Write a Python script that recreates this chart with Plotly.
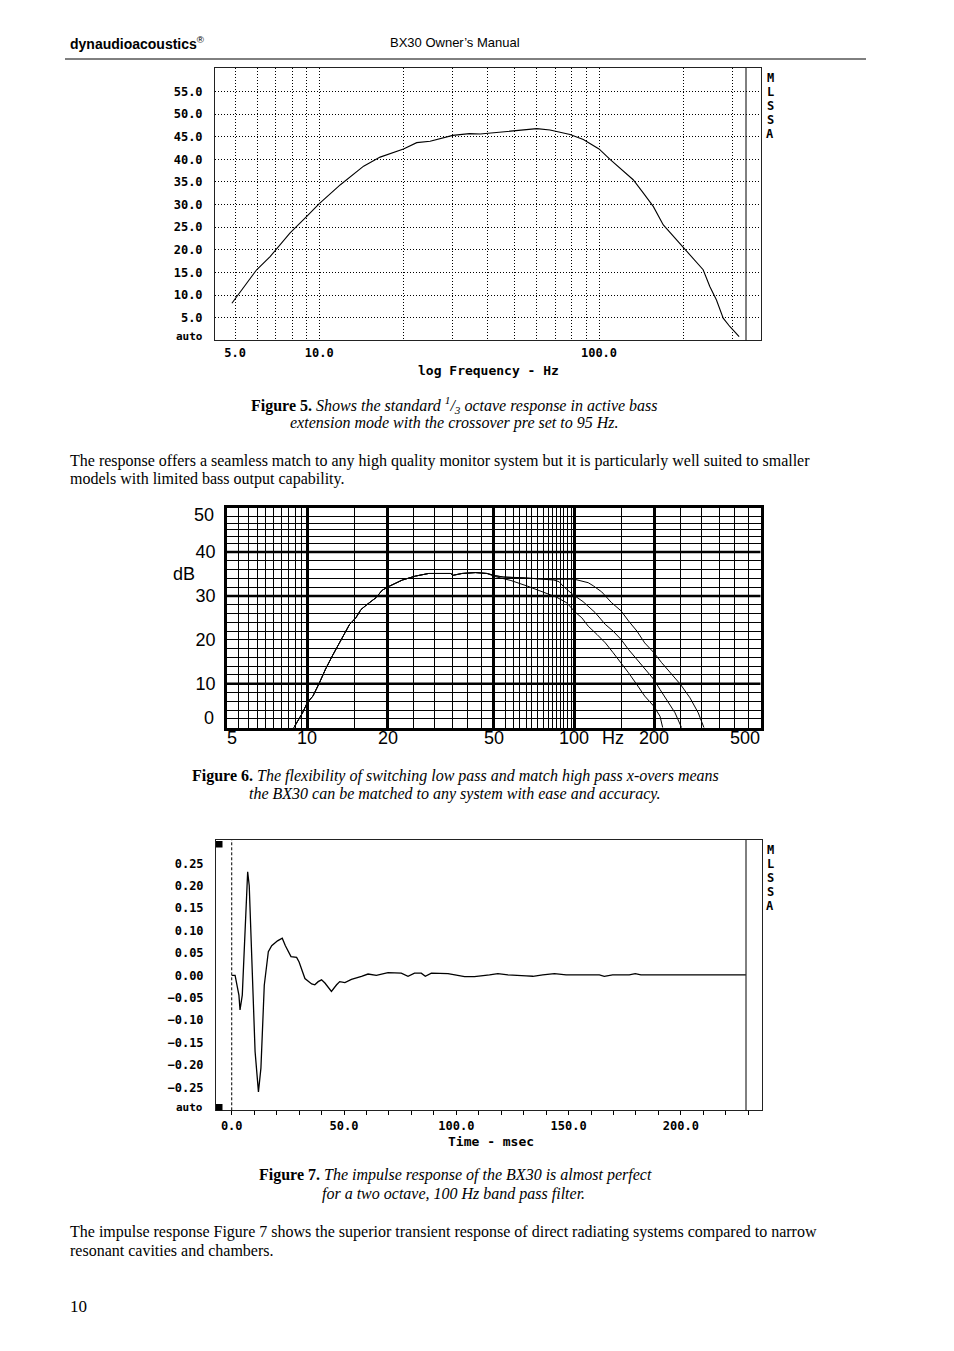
import math
import plotly.graph_objects as go

W, H = 954, 1351

# ---------------- Figure 5 data: 1/3 octave response ----------------
fig5_freq_hz = [4.87, 5.35, 5.97, 6.67, 7.85, 9.02, 10.0, 11.9, 14.4, 16.5,
                20.0, 22.3, 24.9, 30.0, 34.4, 37.6, 41.0, 45.5, 52.0, 59.9,
                66.8, 72.0, 78.8, 87.9, 100.0, 109.5, 122.0, 132.5, 143.9, 156.3,
                169.8, 184.4, 200.0, 217.0, 235.7, 249.0, 263.0, 278.0, 294.0, 317.0]
fig5_level_db = [8.2, 11.6, 15.6, 18.5, 23.7, 27.4, 30.2, 34.4, 38.5, 40.5,
                 42.3, 43.7, 44.0, 45.3, 45.7, 45.6, 45.8, 46.2, 46.5, 46.8,
                 46.5, 46.0, 45.5, 44.4, 42.3, 40.0, 37.4, 35.5, 32.6, 29.6,
                 25.5, 23.0, 20.7, 18.2, 15.6, 11.9, 8.9, 4.9, 3.0, 0.8]
fig5_cursor_hz = 4.86
fig5_label_hz = [5, 10, 100]
fig5_label_text = ["5.0", "10.0", "100.0"]
fig5_minor_hz = [6, 7, 8, 9, 20, 30, 40, 50, 60, 70, 80, 90, 200, 300]
fig5_db_ticks = [5, 10, 15, 20, 25, 30, 35, 40, 45, 50, 55]
fig5_db_text = ["5.0", "10.0", "15.0", "20.0", "25.0", "30.0", "35.0", "40.0", "45.0", "50.0", "55.0"]

# ---------------- Figure 6 data: switchable crossovers ----------------
fig6_common_hz = [8.9, 9.6, 10.0, 10.5, 11.1, 11.7, 12.4, 13.0, 13.6, 14.4, 15.2, 15.9,
                  16.8, 18.1, 19.1, 20.3, 22.7, 25.4, 28.5, 34.4, 35.3, 38.0, 42.7, 47.2]
fig6_common_db = [0.0, 3.4, 5.7, 7.2, 10.2, 13.3, 16.3, 18.6, 20.9, 23.5, 25.0, 26.9,
                  28.1, 29.6, 31.3, 32.2, 33.6, 34.5, 35.1, 35.1, 34.7, 35.1, 35.3, 35.1]
fig6_low_hz = [50.6, 58.0, 67.0, 77.0, 86.0, 94.0, 101.0, 107.0, 113.0, 122.0, 131.0,
               140.0, 150.0, 160.0, 172.0, 184.0, 199.0, 210.0, 215.0]
fig6_low_db = [34.4, 33.5, 32.2, 30.9, 29.7, 28.4, 26.3, 25.0, 23.1, 21.2, 19.3,
               17.1, 14.8, 12.5, 9.8, 7.2, 4.9, 2.6, 0.0]
fig6_mid_hz = [50.6, 54.0, 66.0, 80.0, 84.0, 88.0, 91.0, 99.0, 108.0, 120.0, 131.0,
               140.0, 150.0, 160.0, 172.0, 184.0, 199.0, 210.0, 225.0, 239.0, 253.0]
fig6_mid_db = [34.6, 34.3, 34.1, 33.8, 33.6, 33.2, 32.2, 30.3, 28.7, 26.2, 23.5,
               22.0, 20.1, 17.8, 15.5, 13.3, 11.0, 8.7, 5.7, 3.4, 0.0]
fig6_up_hz = [50.6, 54.4, 66.5, 81.0, 100.0, 105.0, 113.0, 118.0, 127.0, 138.0, 150.0,
              160.0, 172.0, 184.0, 199.0, 213.0, 232.0, 251.0, 272.0, 292.0, 307.0]
fig6_up_db = [34.6, 34.3, 34.0, 33.8, 33.8, 33.5, 33.0, 32.3, 30.9, 28.5, 26.6,
              24.3, 22.0, 19.3, 17.1, 14.8, 12.1, 9.8, 6.8, 3.4, 0.0]
fig6_major_hz = [10, 20, 50, 100, 200]
fig6_x_labels = [5, 10, 20, 50, 100, 200, 500]
fig6_x_label_text = ["5", "10", "20", "50", "100", "200", "500"]
fig6_unit_hz = 140
fig6_minor_hz = [5.5, 6, 6.5, 7, 7.5, 8, 8.5, 9, 9.5, 15, 25, 30, 35, 40, 45,
                 55.5, 59.3, 62.4, 66.5, 69.5, 72.9, 76.8, 80.2, 83.2, 86.1, 88.6,
                 91.2, 94.4, 97.4, 150, 250, 300, 350, 400, 450]
fig6_db_labels = [10, 20, 30, 40]
fig6_db_thick = [10, 30, 40]
fig6_db_thin = [2, 4, 6, 8, 12, 14, 16, 18, 20, 22, 24, 26, 28, 32, 34, 36, 38,
                42, 43.6, 45, 46.4, 48]

# ---------------- Figure 7 data: impulse response ----------------
fig7_time_ms = [0, 1.5, 3.2, 3.7, 4.7, 5.6, 6.7, 7.1, 7.8, 9.2, 10.4, 11.9, 13.0, 14.5,
                16.3, 17.8, 20.4, 22.5, 23.9, 26.4, 28.9, 30.0, 32.6, 35.6, 37.0, 38.5,
                40.0, 41.5, 44.4, 46.7, 48.1, 50.4, 53.3, 57.8, 60.7, 64.4, 69.6, 75.5,
                78.5, 81.4, 84.4, 86.2, 88.9, 96.3, 103.7, 108.1, 110.4, 114.8, 118.5,
                123.0, 131.1, 134.1, 138.5, 143.7, 148.9, 163.7, 165.9, 169.6, 177.0,
                179.7, 182.2, 228.9]
fig7_amplitude = [0, 0, -0.044, -0.077, -0.044, 0.06, 0.2, 0.231, 0.2, 0.016, -0.17,
                  -0.26, -0.207, -0.022, 0.053, 0.066, 0.077, 0.083, 0.066, 0.042, 0.04,
                  0.030, -0.007, -0.019, -0.021, -0.014, -0.010, -0.017, -0.036, -0.021,
                  -0.014, -0.016, -0.009, -0.002, 0.003, 0.0, 0.006, 0.005, -0.002, 0.005,
                  0.005, -0.002, 0.005, 0.004, -0.003, -0.003, -0.002, 0.001, 0.004, 0.001,
                  -0.001, -0.002, 0.001, 0.004, 0.001, 0.001, -0.002, 0.001, 0.001, 0.004,
                  0.001, 0.001]
fig7_time_ticks = [0, 50, 100, 150, 200]
fig7_time_text = ["0.0", "50.0", "100.0", "150.0", "200.0"]
fig7_amp_ticks = [0.25, 0.20, 0.15, 0.10, 0.05, 0.0, -0.05, -0.10, -0.15, -0.20, -0.25]
fig7_amp_text = ["0.25", "0.20", "0.15", "0.10", "0.05", "0.00", "\u22120.05",
                 "\u22120.10", "\u22120.15", "\u22120.20", "\u22120.25"]


# ---------------- helpers (pixel -> paper) ----------------
def px(x):
    return x / W


def py(y):
    return 1 - y / H


def dx(a, b):
    return [a / W, b / W]


def dy(top, bottom):
    return [1 - bottom / H, 1 - top / H]


MONO = dict(family="DejaVu Sans Mono", size=12, color="black", weight="bold")
MONO_S = dict(family="DejaVu Sans Mono", size=11, color="black", weight="bold")
MONO_L = dict(family="DejaVu Sans Mono", size=13, color="black", weight="bold")
SANS = dict(family="Liberation Sans, Arial", size=18, color="black")
SERIF = dict(family="Liberation Serif, Times New Roman", size=16, color="black")

fig = go.Figure()

# Figure 5 curve
fig.add_trace(go.Scatter(x=fig5_freq_hz, y=fig5_level_db, mode="lines",
                         line=dict(color="black", width=1.1), xaxis="x", yaxis="y",
                         showlegend=False, hoverinfo="skip"))

# Figure 6 curves
for bh, bd in [(fig6_low_hz, fig6_low_db), (fig6_mid_hz, fig6_mid_db), (fig6_up_hz, fig6_up_db)]:
    fig.add_trace(go.Scatter(x=fig6_common_hz + bh, y=fig6_common_db + bd, mode="lines",
                             line=dict(color="black", width=1), xaxis="x2", yaxis="y2",
                             showlegend=False, hoverinfo="skip"))

# Figure 7 curve
fig.add_trace(go.Scatter(x=fig7_time_ms, y=fig7_amplitude, mode="lines",
                         line=dict(color="black", width=1.3), xaxis="x3", yaxis="y3",
                         showlegend=False, hoverinfo="skip"))

dotgrid = dict(showgrid=True, gridcolor="black", griddash="1px,2px", gridwidth=1)

layout = dict(
    width=W, height=H, margin=dict(l=0, r=0, t=0, b=0),
    paper_bgcolor="white", plot_bgcolor="white", showlegend=False,
    # Figure 5
    xaxis=dict(domain=dx(215, 761), type="log", range=[0.6271, 2.5792], anchor="y",
               tickmode="array", tickvals=fig5_label_hz, ticktext=fig5_label_text,
               ticks="", tickfont=MONO, ticklabelstandoff=1, zeroline=False,
               minor=dict(tickmode="array", tickvals=fig5_minor_hz, ticks="", **dotgrid),
               showline=True, mirror=True, linecolor="#222", linewidth=1, **dotgrid),
    yaxis=dict(domain=dy(68, 340.3), range=[0, 60.2], anchor="x",
               tickmode="array", tickvals=fig5_db_ticks, ticktext=fig5_db_text,
               ticks="", tickfont=MONO, ticklabelstandoff=9, zeroline=False,
               showline=True, mirror=True, linecolor="#222", linewidth=1, **dotgrid),
    # Figure 6
    xaxis2=dict(domain=dx(227, 760.5), type="log", range=[math.log10(5), math.log10(500)],
                anchor="y2", tickmode="array", tickvals=fig6_major_hz,
                showticklabels=False, ticks="", zeroline=False,
                showgrid=True, gridcolor="black", gridwidth=2.5,
                minor=dict(tickmode="array", tickvals=fig6_minor_hz, showgrid=True,
                           gridcolor="black", gridwidth=1, ticks=""),
                showline=True, mirror=True, linecolor="black", linewidth=2.5),
    yaxis2=dict(domain=dy(508, 727.7), range=[0, 50], anchor="x2",
                tickmode="array", tickvals=fig6_db_labels,
                ticktext=[str(v) for v in fig6_db_labels],
                ticks="", tickfont=SANS, ticklabelstandoff=5, zeroline=False,
                showgrid=False,
                minor=dict(tickmode="array", tickvals=fig6_db_thin, showgrid=True,
                           gridcolor="black", gridwidth=1, ticks=""),
                showline=True, mirror=True, linecolor="black", linewidth=2.5),
    # Figure 7
    xaxis3=dict(domain=dx(216, 761.5), range=[-7.0, 235.9], anchor="y3",
                tickmode="array", tickvals=fig7_time_ticks, ticktext=fig7_time_text,
                ticks="outside", ticklen=4, tickcolor="black", tickfont=MONO,
                ticklabelstandoff=0, zeroline=False, showgrid=False,
                minor=dict(tickmode="linear", tick0=0, dtick=10, ticks="outside",
                           ticklen=4, tickcolor="black", showgrid=False),
                showline=True, mirror=True, linecolor="#222", linewidth=1),
    yaxis3=dict(domain=dy(840, 1110.3), range=[-0.301, 0.302], anchor="x3",
                tickmode="array", tickvals=fig7_amp_ticks, ticktext=fig7_amp_text,
                ticks="", tickfont=MONO, ticklabelstandoff=9, zeroline=False, showgrid=False,
                showline=True, mirror=True, linecolor="#222", linewidth=1),
)
fig.update_layout(**layout)

shapes = []
# header rule
shapes.append(dict(type="line", xref="paper", yref="paper", x0=px(65), x1=px(866),
                   y0=py(59), y1=py(59), line=dict(color="black", width=1)))
# Figure 5: cursor and right-hand panel separator
shapes.append(dict(type="line", xref="x", yref="y domain", x0=math.log10(fig5_cursor_hz),
                   x1=math.log10(fig5_cursor_hz), y0=0, y1=1,
                   line=dict(color="black", width=1, dash="3px,2px")))
shapes.append(dict(type="line", xref="x domain", yref="y domain", x0=(746 - 215) / (761 - 215),
                   x1=(746 - 215) / (761 - 215), y0=0, y1=1, line=dict(color="black", width=1)))
# Figure 6: heavy horizontal rules
for v in fig6_db_thick:
    shapes.append(dict(type="line", xref="x2 domain", yref="y2", x0=0, x1=1, y0=v, y1=v,
                       layer="below", line=dict(color="black", width=2.5)))
# Figure 7: time-zero cursor, separator, marker squares
shapes.append(dict(type="line", xref="x3", yref="y3 domain", x0=0, x1=0, y0=0, y1=1,
                   line=dict(color="black", width=1, dash="3px,2px")))
shapes.append(dict(type="line", xref="x3 domain", yref="y3 domain",
                   x0=(746 - 216) / (761.5 - 216), x1=(746 - 216) / (761.5 - 216), y0=0, y1=1,
                   line=dict(color="black", width=1)))
for top in (841, 1104):
    shapes.append(dict(type="rect", xref="paper", yref="paper", x0=px(216), x1=px(222.5),
                       y0=py(top + 6.5), y1=py(top), fillcolor="black", line=dict(width=0)))
fig.update_layout(shapes=shapes)

ann = []


def text(x, y, s, font, xanchor="left", yanchor="middle"):
    ann.append(dict(x=px(x), y=py(y), xref="paper", yref="paper", text=s, showarrow=False,
                    font=font, xanchor=xanchor, yanchor=yanchor, align="left" if xanchor == "left" else "center"))


# header
text(68, 43, "<b>dynaudioacoustics</b><sup>®</sup>",
     dict(family="Liberation Sans Narrow, Arial Narrow, Liberation Sans", size=14, color="black"))
text(388, 43, "BX30 Owner\u2019s Manual", dict(family="Liberation Sans, Arial", size=13, color="black"))

# Figure 5 extras
text(205, 337, "auto", MONO_S, xanchor="right")
text(488, 371, "log Frequency - Hz", MONO_L, xanchor="center")
for i, ch in enumerate("MLSSA"):
    text(770, 78 + 14 * i, ch, MONO, xanchor="center")
    text(770, 850 + 14 * i, ch, MONO, xanchor="center")

# Figure 5 caption
text(454.5, 405, "<b>Figure 5.</b> <i>Shows the standard <sup>1</sup>/<sub>3</sub> octave response in active bass</i>",
     SERIF, xanchor="center")
text(454, 423, "<i>extension mode with the crossover pre set to 95 Hz.</i>", SERIF, xanchor="center")
text(68, 461, "The response offers a seamless match to any high quality monitor system but it is particularly well suited to smaller",
     SERIF)
text(68, 479, "models with limited bass output capability.", SERIF)

# Figure 6 labels (placed through the x2 axis scale)
fig6_label_shift = {5: 5, 500: -16}
for f, s in zip(fig6_x_labels, fig6_x_label_text):
    ann.append(dict(x=math.log10(f), y=py(738), xref="x2", yref="paper", text=s, showarrow=False,
                    font=SANS, xanchor="center", yanchor="middle", xshift=fig6_label_shift.get(f, 0)))
ann.append(dict(x=math.log10(fig6_unit_hz), y=py(738), xref="x2", yref="paper", text="Hz",
                showarrow=False, font=SANS, xanchor="center", yanchor="middle"))
ann.append(dict(x=px(216), y=50, xref="paper", yref="y2", text="50", showarrow=False, font=SANS,
                xanchor="right", yanchor="middle", yshift=-7))
ann.append(dict(x=px(216), y=0, xref="paper", yref="y2", text="0", showarrow=False, font=SANS,
                xanchor="right", yanchor="middle", yshift=10))
text(184, 574, "dB", SANS, xanchor="center")

# Figure 6 caption
text(455, 776, "<b>Figure 6.</b> <i>The flexibility of switching low pass and match high pass x-overs means</i>",
     SERIF, xanchor="center")
text(454.5, 794, "<i>the BX30 can be matched to any system with ease and accuracy.</i>", SERIF, xanchor="center")

# Figure 7 extras
text(205, 1107, "auto", MONO_S, xanchor="right")
text(491, 1141, "Time - msec", MONO_L, xanchor="center")

# Figure 7 caption
text(455, 1175, "<b>Figure 7.</b> <i>The impulse response of the BX30 is almost perfect</i>", SERIF, xanchor="center")
text(453.5, 1194, "<i>for a two octave, 100 Hz band pass filter.</i>", SERIF, xanchor="center")
text(68, 1232, "The impulse response Figure 7 shows the superior transient response of direct radiating systems compared to narrow",
     SERIF)
text(68, 1250, "resonant cavities and chambers.", SERIF)
text(68, 1306, "10", dict(family="Liberation Serif, Times New Roman", size=17, color="black"))

fig.update_layout(annotations=ann)
fig.write_html("out.html")
